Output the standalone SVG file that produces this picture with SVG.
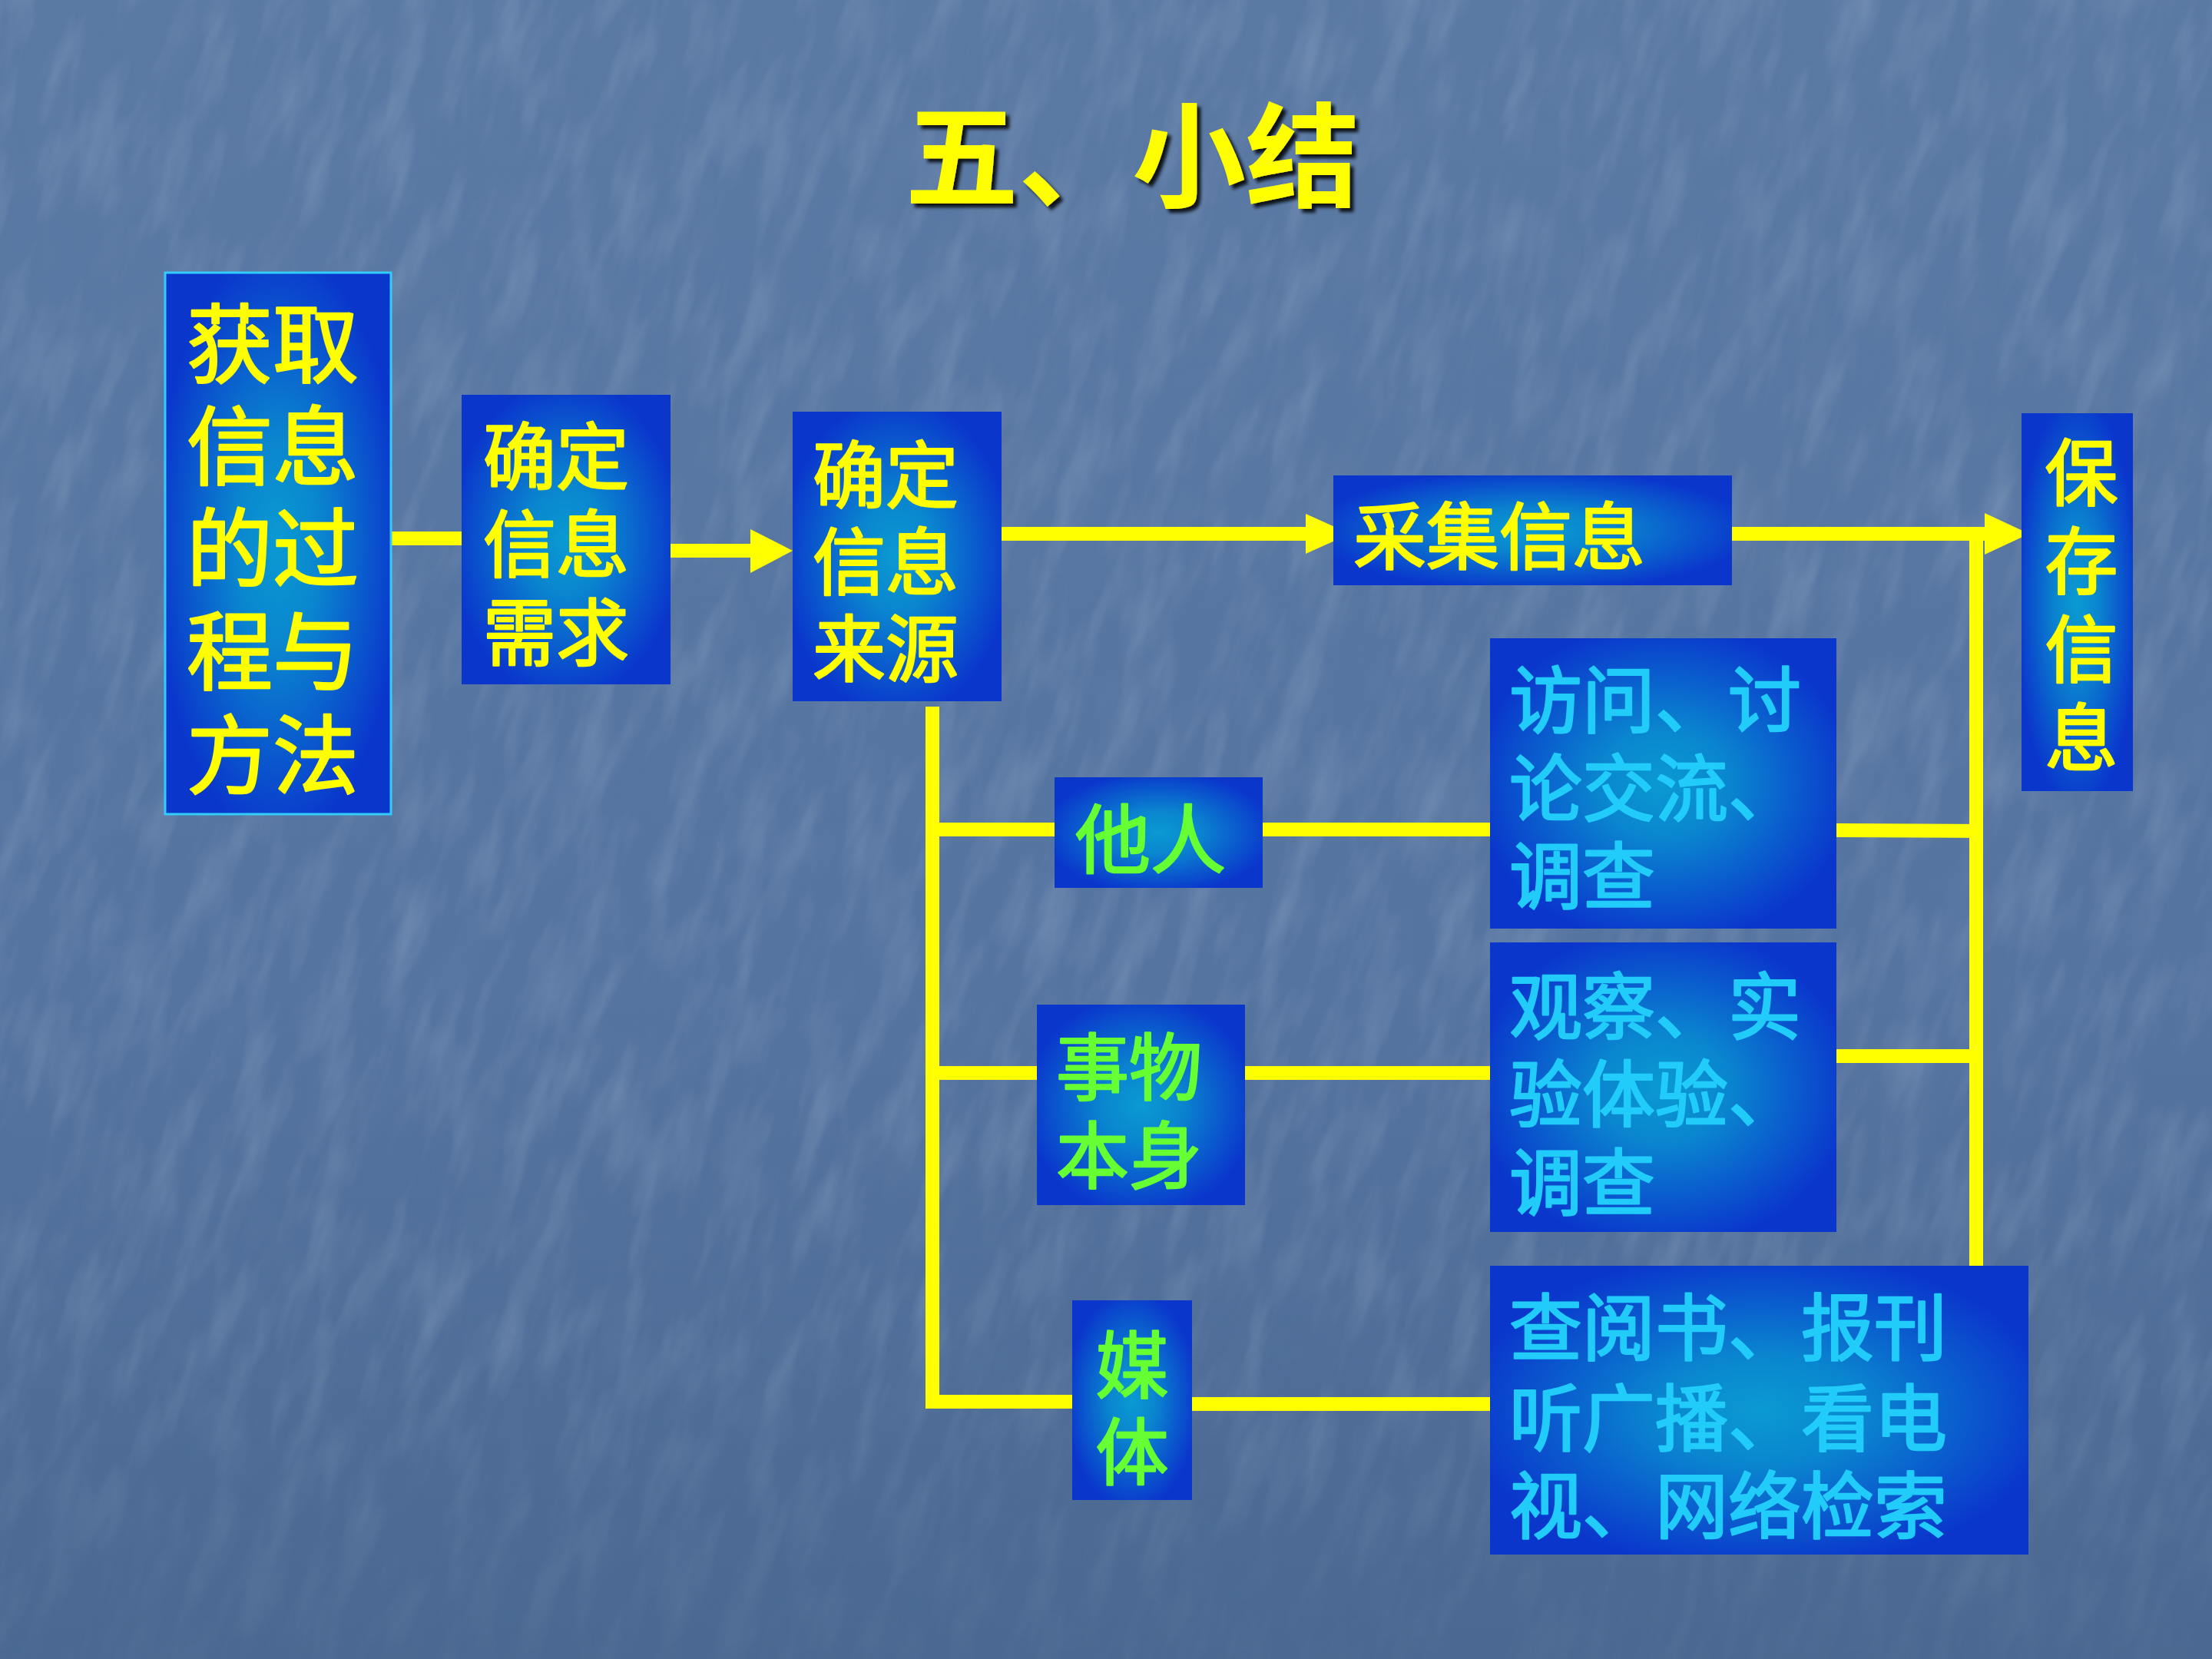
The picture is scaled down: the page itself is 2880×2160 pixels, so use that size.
<svg xmlns="http://www.w3.org/2000/svg" width="2880" height="2160" viewBox="0 0 2880 2160">
<defs>
  <linearGradient id="bg" x1="0" y1="0" x2="0" y2="1">
    <stop offset="0" stop-color="#5a79a3"/>
    <stop offset="0.6" stop-color="#5574a0"/>
    <stop offset="1" stop-color="#4a6891"/>
  </linearGradient>
  <radialGradient id="boxg" cx="0.5" cy="0.5" r="0.55">
    <stop offset="0" stop-color="#0a9ad2"/>
    <stop offset="0.35" stop-color="#0a85cf"/>
    <stop offset="1" stop-color="#0a36cc"/>
  </radialGradient>
  <filter id="texL" x="0" y="0" width="100%" height="100%">
    <feTurbulence type="fractalNoise" baseFrequency="0.028 0.007" numOctaves="3" seed="7"/>
    <feColorMatrix type="matrix" values="0 0 0 0 0.8  0 0 0 0 0.87  0 0 0 0 1  0.32 0 0 0 -0.14"/>
  </filter>
  <filter id="texD" x="0" y="0" width="100%" height="100%">
    <feTurbulence type="fractalNoise" baseFrequency="0.018 0.008" numOctaves="3" seed="21"/>
    <feColorMatrix type="matrix" values="0 0 0 0 0.18  0 0 0 0 0.28  0 0 0 0 0.45  -0.38 0 0 0 0.2"/>
  </filter>
  <filter id="shadow" x="-10%" y="-10%" width="120%" height="130%">
    <feDropShadow dx="5" dy="5" stdDeviation="2" flood-color="#000" flood-opacity="0.85"/>
  </filter>
  <linearGradient id="fade" x1="0" y1="0" x2="0" y2="1">
    <stop offset="0" stop-color="#fff" stop-opacity="1"/>
    <stop offset="0.8" stop-color="#fff" stop-opacity="1"/>
    <stop offset="1" stop-color="#fff" stop-opacity="0.3"/>
  </linearGradient>
  <mask id="texmask"><rect x="0" y="0" width="2880" height="2160" fill="url(#fade)"/></mask>
</defs>
<style>
  .box { fill: url(#boxg); }
  .y { fill: #ffff00; stroke: #ffff00; }
  .g { fill: #66ff33; stroke: #66ff33; }
  .c { fill: #22ccfa; stroke: #22ccfa; }
  text { font-family: "Noto Sans CJK SC", "Noto Sans", sans-serif; stroke-width: 2.5; stroke-linejoin: round; }
  .t95 { font-size: 95px; }
  .t112 { font-size: 112px; }
  .con line { stroke: #ffff00; stroke-width: 18; }
  .con polygon { fill: #ffff00; }
</style>

<rect x="0" y="0" width="2880" height="2160" fill="url(#bg)"/>
<g mask="url(#texmask)">
  <g transform="rotate(18 1440 1080)">
    <rect x="-700" y="-700" width="4280" height="3560" filter="url(#texL)"/>
    <rect x="-700" y="-700" width="4280" height="3560" filter="url(#texD)"/>
  </g>
</g>

<g id="title">
  <text x="1474" y="258" text-anchor="middle" font-size="148" font-weight="bold" fill="#ffff00" stroke="none" filter="url(#shadow)">五、小结</text>
</g>

<g id="connectors" class="con">
  <line x1="509" y1="701" x2="603" y2="701"/>
  <line x1="873" y1="717" x2="980" y2="717"/>
  <polygon points="977,689 1032,717 977,746"/>
  <line x1="1304" y1="695" x2="1703" y2="695"/>
  <polygon points="1700,669 1758,695 1700,721"/>
  <line x1="2255" y1="695" x2="2587" y2="695"/>
  <polygon points="2584,668 2642,695 2584,722"/>
  <line x1="2573" y1="704" x2="2573" y2="1648"/>
  <line x1="1214" y1="920" x2="1214" y2="1834"/>
  <line x1="1205" y1="1080" x2="1374" y2="1080"/>
  <line x1="1643" y1="1080" x2="1941" y2="1080"/>
  <line x1="2391" y1="1081" x2="2582" y2="1082"/>
  <line x1="1205" y1="1397" x2="1350" y2="1397"/>
  <line x1="1621" y1="1397" x2="1941" y2="1397"/>
  <line x1="2391" y1="1375" x2="2582" y2="1375"/>
  <line x1="1205" y1="1825" x2="1397" y2="1825"/>
  <line x1="1551" y1="1828" x2="1941" y2="1828"/>
</g>

<g id="n-process">
  <rect class="box" x="215" y="355" width="294" height="705" stroke="#33ccff" stroke-width="3"/>
  <text class="t112 y"><tspan x="243" y="490">获取</tspan><tspan x="243" y="623">信息</tspan><tspan x="243" y="756">的过</tspan><tspan x="243" y="890">程与</tspan><tspan x="243" y="1025">方法</tspan></text>
</g>

<g id="n-need">
  <rect class="box" x="601" y="514" width="272" height="377"/>
  <text class="t95 y"><tspan x="629" y="630">确定</tspan><tspan x="629" y="744">信息</tspan><tspan x="629" y="859">需求</tspan></text>
</g>

<g id="n-source">
  <rect class="box" x="1032" y="536" width="272" height="377"/>
  <text class="t95 y"><tspan x="1058" y="654">确定</tspan><tspan x="1058" y="767">信息</tspan><tspan x="1058" y="880">来源</tspan></text>
</g>

<g id="n-collect">
  <rect class="box" x="1736" y="619" width="519" height="143"/>
  <text class="t95 y" x="1762" y="734">采集信息</text>
</g>

<g id="n-save">
  <rect class="box" x="2632" y="538" width="145" height="492"/>
  <text class="t95 y" text-anchor="middle"><tspan x="2710" y="651">保</tspan><tspan x="2710" y="766">存</tspan><tspan x="2710" y="881">信</tspan><tspan x="2710" y="996">息</tspan></text>
</g>

<g id="n-others">
  <rect class="box" x="1373" y="1012" width="271" height="144"/>
  <text class="g" font-size="98" x="1400" y="1129">他人</text>
</g>

<g id="n-interview">
  <rect class="box" x="1940" y="831" width="451" height="378"/>
  <text class="t95 c"><tspan x="1965" y="947">访问、讨</tspan><tspan x="1965" y="1062">论交流、</tspan><tspan x="1965" y="1176">调查</tspan></text>
</g>

<g id="n-things">
  <rect class="box" x="1350" y="1308" width="271" height="261"/>
  <text class="t95 g"><tspan x="1375" y="1425">事物</tspan><tspan x="1375" y="1540">本身</tspan></text>
</g>

<g id="n-observe">
  <rect class="box" x="1940" y="1227" width="451" height="377"/>
  <text class="t95 c"><tspan x="1965" y="1346">观察、实</tspan><tspan x="1965" y="1460">验体验、</tspan><tspan x="1965" y="1575">调查</tspan></text>
</g>

<g id="n-media">
  <rect class="box" x="1396" y="1693" width="156" height="260"/>
  <text class="t95 g" text-anchor="middle"><tspan x="1474" y="1813">媒</tspan><tspan x="1474" y="1926">体</tspan></text>
</g>

<g id="n-read">
  <rect class="box" x="1940" y="1648" width="701" height="376"/>
  <text class="t95 c"><tspan x="1965" y="1764">查阅书、报刊</tspan><tspan x="1965" y="1882">听广播、看电</tspan><tspan x="1965" y="1996">视、网络检索</tspan></text>
</g>
</svg>
